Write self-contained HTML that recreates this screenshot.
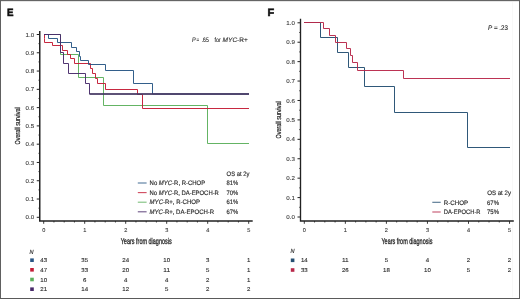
<!DOCTYPE html>
<html><head><meta charset="utf-8"><style>
html,body{margin:0;padding:0;background:#fff;width:520px;height:299px;overflow:hidden;}
svg{display:block;font-family:"Liberation Sans",sans-serif;will-change:transform;text-rendering:geometricPrecision;}
</style></head><body>
<svg width="520" height="299" viewBox="0 0 520 299" font-family="Liberation Sans, sans-serif">
<rect x="0" y="0" width="520" height="299" fill="#fff"/>
<rect x="512" y="2" width="1" height="295" fill="#f8f8f8"/>
<path d="M39.75,31 V221.0 H252.7" fill="none" stroke="#222222" stroke-width="1.5"/>
<path d="M36.75,217.30 H39.75" stroke="#222222" stroke-width="1"/>
<text x="34.15" y="219.35000000000002" font-size="5.7" text-anchor="end" fill="#3a3a3a" stroke="#3a3a3a" stroke-width="0.1" font-weight="normal" font-style="normal" textLength="8.6" lengthAdjust="spacingAndGlyphs" >0.0</text>
<path d="M38.45,208.16 H39.75" stroke="#222222" stroke-width="0.8"/>
<path d="M36.75,199.02 H39.75" stroke="#222222" stroke-width="1"/>
<text x="34.15" y="201.07000000000002" font-size="5.7" text-anchor="end" fill="#3a3a3a" stroke="#3a3a3a" stroke-width="0.1" font-weight="normal" font-style="normal" textLength="8.6" lengthAdjust="spacingAndGlyphs" >0.1</text>
<path d="M38.45,189.88 H39.75" stroke="#222222" stroke-width="0.8"/>
<path d="M36.75,180.74 H39.75" stroke="#222222" stroke-width="1"/>
<text x="34.15" y="182.79000000000002" font-size="5.7" text-anchor="end" fill="#3a3a3a" stroke="#3a3a3a" stroke-width="0.1" font-weight="normal" font-style="normal" textLength="8.6" lengthAdjust="spacingAndGlyphs" >0.2</text>
<path d="M38.45,171.60 H39.75" stroke="#222222" stroke-width="0.8"/>
<path d="M36.75,162.46 H39.75" stroke="#222222" stroke-width="1"/>
<text x="34.15" y="164.51000000000002" font-size="5.7" text-anchor="end" fill="#3a3a3a" stroke="#3a3a3a" stroke-width="0.1" font-weight="normal" font-style="normal" textLength="8.6" lengthAdjust="spacingAndGlyphs" >0.3</text>
<path d="M38.45,153.32 H39.75" stroke="#222222" stroke-width="0.8"/>
<path d="M36.75,144.18 H39.75" stroke="#222222" stroke-width="1"/>
<text x="34.15" y="146.23000000000002" font-size="5.7" text-anchor="end" fill="#3a3a3a" stroke="#3a3a3a" stroke-width="0.1" font-weight="normal" font-style="normal" textLength="8.6" lengthAdjust="spacingAndGlyphs" >0.4</text>
<path d="M38.45,135.04 H39.75" stroke="#222222" stroke-width="0.8"/>
<path d="M36.75,125.90 H39.75" stroke="#222222" stroke-width="1"/>
<text x="34.15" y="127.95" font-size="5.7" text-anchor="end" fill="#3a3a3a" stroke="#3a3a3a" stroke-width="0.1" font-weight="normal" font-style="normal" textLength="8.6" lengthAdjust="spacingAndGlyphs" >0.5</text>
<path d="M38.45,116.76 H39.75" stroke="#222222" stroke-width="0.8"/>
<path d="M36.75,107.62 H39.75" stroke="#222222" stroke-width="1"/>
<text x="34.15" y="109.66999999999999" font-size="5.7" text-anchor="end" fill="#3a3a3a" stroke="#3a3a3a" stroke-width="0.1" font-weight="normal" font-style="normal" textLength="8.6" lengthAdjust="spacingAndGlyphs" >0.6</text>
<path d="M38.45,98.48 H39.75" stroke="#222222" stroke-width="0.8"/>
<path d="M36.75,89.34 H39.75" stroke="#222222" stroke-width="1"/>
<text x="34.15" y="91.39" font-size="5.7" text-anchor="end" fill="#3a3a3a" stroke="#3a3a3a" stroke-width="0.1" font-weight="normal" font-style="normal" textLength="8.6" lengthAdjust="spacingAndGlyphs" >0.7</text>
<path d="M38.45,80.20 H39.75" stroke="#222222" stroke-width="0.8"/>
<path d="M36.75,71.06 H39.75" stroke="#222222" stroke-width="1"/>
<text x="34.15" y="73.11" font-size="5.7" text-anchor="end" fill="#3a3a3a" stroke="#3a3a3a" stroke-width="0.1" font-weight="normal" font-style="normal" textLength="8.6" lengthAdjust="spacingAndGlyphs" >0.8</text>
<path d="M38.45,61.92 H39.75" stroke="#222222" stroke-width="0.8"/>
<path d="M36.75,52.78 H39.75" stroke="#222222" stroke-width="1"/>
<text x="34.15" y="54.83" font-size="5.7" text-anchor="end" fill="#3a3a3a" stroke="#3a3a3a" stroke-width="0.1" font-weight="normal" font-style="normal" textLength="8.6" lengthAdjust="spacingAndGlyphs" >0.9</text>
<path d="M38.45,43.64 H39.75" stroke="#222222" stroke-width="0.8"/>
<path d="M36.75,34.50 H39.75" stroke="#222222" stroke-width="1"/>
<text x="34.15" y="36.55" font-size="5.7" text-anchor="end" fill="#3a3a3a" stroke="#3a3a3a" stroke-width="0.1" font-weight="normal" font-style="normal" textLength="8.6" lengthAdjust="spacingAndGlyphs" >1.0</text>
<path d="M43.70,221.0 V223.8" stroke="#222222" stroke-width="0.9"/>
<text x="43.70" y="232.0" font-size="5.6" text-anchor="middle" fill="#3a3a3a" stroke="#3a3a3a" stroke-width="0.1" font-weight="normal" font-style="normal" >0</text>
<path d="M53.95,221.0 V222.5" stroke="#222222" stroke-width="0.8"/>
<path d="M64.20,221.0 V222.5" stroke="#222222" stroke-width="0.8"/>
<path d="M74.45,221.0 V222.5" stroke="#222222" stroke-width="0.8"/>
<path d="M84.70,221.0 V223.8" stroke="#222222" stroke-width="0.9"/>
<text x="84.70" y="232.0" font-size="5.6" text-anchor="middle" fill="#3a3a3a" stroke="#3a3a3a" stroke-width="0.1" font-weight="normal" font-style="normal" >1</text>
<path d="M94.95,221.0 V222.5" stroke="#222222" stroke-width="0.8"/>
<path d="M105.20,221.0 V222.5" stroke="#222222" stroke-width="0.8"/>
<path d="M115.45,221.0 V222.5" stroke="#222222" stroke-width="0.8"/>
<path d="M125.70,221.0 V223.8" stroke="#222222" stroke-width="0.9"/>
<text x="125.70" y="232.0" font-size="5.6" text-anchor="middle" fill="#3a3a3a" stroke="#3a3a3a" stroke-width="0.1" font-weight="normal" font-style="normal" >2</text>
<path d="M135.95,221.0 V222.5" stroke="#222222" stroke-width="0.8"/>
<path d="M146.20,221.0 V222.5" stroke="#222222" stroke-width="0.8"/>
<path d="M156.45,221.0 V222.5" stroke="#222222" stroke-width="0.8"/>
<path d="M166.70,221.0 V223.8" stroke="#222222" stroke-width="0.9"/>
<text x="166.70" y="232.0" font-size="5.6" text-anchor="middle" fill="#3a3a3a" stroke="#3a3a3a" stroke-width="0.1" font-weight="normal" font-style="normal" >3</text>
<path d="M176.95,221.0 V222.5" stroke="#222222" stroke-width="0.8"/>
<path d="M187.20,221.0 V222.5" stroke="#222222" stroke-width="0.8"/>
<path d="M197.45,221.0 V222.5" stroke="#222222" stroke-width="0.8"/>
<path d="M207.70,221.0 V223.8" stroke="#222222" stroke-width="0.9"/>
<text x="207.70" y="232.0" font-size="5.6" text-anchor="middle" fill="#3a3a3a" stroke="#3a3a3a" stroke-width="0.1" font-weight="normal" font-style="normal" >4</text>
<path d="M217.95,221.0 V222.5" stroke="#222222" stroke-width="0.8"/>
<path d="M228.20,221.0 V222.5" stroke="#222222" stroke-width="0.8"/>
<path d="M238.45,221.0 V222.5" stroke="#222222" stroke-width="0.8"/>
<path d="M248.70,221.0 V223.8" stroke="#222222" stroke-width="0.9"/>
<text x="248.70" y="232.0" font-size="5.6" text-anchor="middle" fill="#3a3a3a" stroke="#3a3a3a" stroke-width="0.1" font-weight="normal" font-style="normal" >5</text>
<text x="146.20" y="243.6" font-size="8.4" text-anchor="middle" fill="#222" stroke="#222" stroke-width="0.28" font-weight="normal" font-style="normal" textLength="51" lengthAdjust="spacingAndGlyphs" >Years from diagnosis</text>
<text transform="translate(20.2,125.90) rotate(-90)" x="0" y="0" font-size="7.3" text-anchor="middle" fill="#222" stroke="#222" stroke-width="0.2" textLength="37.3" lengthAdjust="spacingAndGlyphs">Overall survival</text>
<path d="M300.5,18.7 V221.0 H513.8" fill="none" stroke="#222222" stroke-width="1.35"/>
<path d="M297.5,217.00 H300.5" stroke="#222222" stroke-width="1"/>
<text x="294.9" y="219.05" font-size="5.7" text-anchor="end" fill="#3a3a3a" stroke="#3a3a3a" stroke-width="0.1" font-weight="normal" font-style="normal" textLength="8.6" lengthAdjust="spacingAndGlyphs" >0.0</text>
<path d="M299.2,207.29 H300.5" stroke="#222222" stroke-width="0.8"/>
<path d="M297.5,197.58 H300.5" stroke="#222222" stroke-width="1"/>
<text x="294.9" y="199.63000000000002" font-size="5.7" text-anchor="end" fill="#3a3a3a" stroke="#3a3a3a" stroke-width="0.1" font-weight="normal" font-style="normal" textLength="8.6" lengthAdjust="spacingAndGlyphs" >0.1</text>
<path d="M299.2,187.87 H300.5" stroke="#222222" stroke-width="0.8"/>
<path d="M297.5,178.16 H300.5" stroke="#222222" stroke-width="1"/>
<text x="294.9" y="180.21" font-size="5.7" text-anchor="end" fill="#3a3a3a" stroke="#3a3a3a" stroke-width="0.1" font-weight="normal" font-style="normal" textLength="8.6" lengthAdjust="spacingAndGlyphs" >0.2</text>
<path d="M299.2,168.45 H300.5" stroke="#222222" stroke-width="0.8"/>
<path d="M297.5,158.74 H300.5" stroke="#222222" stroke-width="1"/>
<text x="294.9" y="160.79000000000002" font-size="5.7" text-anchor="end" fill="#3a3a3a" stroke="#3a3a3a" stroke-width="0.1" font-weight="normal" font-style="normal" textLength="8.6" lengthAdjust="spacingAndGlyphs" >0.3</text>
<path d="M299.2,149.03 H300.5" stroke="#222222" stroke-width="0.8"/>
<path d="M297.5,139.32 H300.5" stroke="#222222" stroke-width="1"/>
<text x="294.9" y="141.37" font-size="5.7" text-anchor="end" fill="#3a3a3a" stroke="#3a3a3a" stroke-width="0.1" font-weight="normal" font-style="normal" textLength="8.6" lengthAdjust="spacingAndGlyphs" >0.4</text>
<path d="M299.2,129.61 H300.5" stroke="#222222" stroke-width="0.8"/>
<path d="M297.5,119.90 H300.5" stroke="#222222" stroke-width="1"/>
<text x="294.9" y="121.95" font-size="5.7" text-anchor="end" fill="#3a3a3a" stroke="#3a3a3a" stroke-width="0.1" font-weight="normal" font-style="normal" textLength="8.6" lengthAdjust="spacingAndGlyphs" >0.5</text>
<path d="M299.2,110.19 H300.5" stroke="#222222" stroke-width="0.8"/>
<path d="M297.5,100.48 H300.5" stroke="#222222" stroke-width="1"/>
<text x="294.9" y="102.53000000000002" font-size="5.7" text-anchor="end" fill="#3a3a3a" stroke="#3a3a3a" stroke-width="0.1" font-weight="normal" font-style="normal" textLength="8.6" lengthAdjust="spacingAndGlyphs" >0.6</text>
<path d="M299.2,90.77 H300.5" stroke="#222222" stroke-width="0.8"/>
<path d="M297.5,81.06 H300.5" stroke="#222222" stroke-width="1"/>
<text x="294.9" y="83.11" font-size="5.7" text-anchor="end" fill="#3a3a3a" stroke="#3a3a3a" stroke-width="0.1" font-weight="normal" font-style="normal" textLength="8.6" lengthAdjust="spacingAndGlyphs" >0.7</text>
<path d="M299.2,71.35 H300.5" stroke="#222222" stroke-width="0.8"/>
<path d="M297.5,61.64 H300.5" stroke="#222222" stroke-width="1"/>
<text x="294.9" y="63.69000000000001" font-size="5.7" text-anchor="end" fill="#3a3a3a" stroke="#3a3a3a" stroke-width="0.1" font-weight="normal" font-style="normal" textLength="8.6" lengthAdjust="spacingAndGlyphs" >0.8</text>
<path d="M299.2,51.93 H300.5" stroke="#222222" stroke-width="0.8"/>
<path d="M297.5,42.22 H300.5" stroke="#222222" stroke-width="1"/>
<text x="294.9" y="44.269999999999996" font-size="5.7" text-anchor="end" fill="#3a3a3a" stroke="#3a3a3a" stroke-width="0.1" font-weight="normal" font-style="normal" textLength="8.6" lengthAdjust="spacingAndGlyphs" >0.9</text>
<path d="M299.2,32.51 H300.5" stroke="#222222" stroke-width="0.8"/>
<path d="M297.5,22.80 H300.5" stroke="#222222" stroke-width="1"/>
<text x="294.9" y="24.850000000000012" font-size="5.7" text-anchor="end" fill="#3a3a3a" stroke="#3a3a3a" stroke-width="0.1" font-weight="normal" font-style="normal" textLength="8.6" lengthAdjust="spacingAndGlyphs" >1.0</text>
<path d="M304.30,221.0 V223.8" stroke="#222222" stroke-width="0.9"/>
<text x="304.30" y="232.0" font-size="5.6" text-anchor="middle" fill="#3a3a3a" stroke="#3a3a3a" stroke-width="0.1" font-weight="normal" font-style="normal" >0</text>
<path d="M314.56,221.0 V222.5" stroke="#222222" stroke-width="0.8"/>
<path d="M324.82,221.0 V222.5" stroke="#222222" stroke-width="0.8"/>
<path d="M335.09,221.0 V222.5" stroke="#222222" stroke-width="0.8"/>
<path d="M345.35,221.0 V223.8" stroke="#222222" stroke-width="0.9"/>
<text x="345.35" y="232.0" font-size="5.6" text-anchor="middle" fill="#3a3a3a" stroke="#3a3a3a" stroke-width="0.1" font-weight="normal" font-style="normal" >1</text>
<path d="M355.61,221.0 V222.5" stroke="#222222" stroke-width="0.8"/>
<path d="M365.88,221.0 V222.5" stroke="#222222" stroke-width="0.8"/>
<path d="M376.14,221.0 V222.5" stroke="#222222" stroke-width="0.8"/>
<path d="M386.40,221.0 V223.8" stroke="#222222" stroke-width="0.9"/>
<text x="386.40" y="232.0" font-size="5.6" text-anchor="middle" fill="#3a3a3a" stroke="#3a3a3a" stroke-width="0.1" font-weight="normal" font-style="normal" >2</text>
<path d="M396.66,221.0 V222.5" stroke="#222222" stroke-width="0.8"/>
<path d="M406.93,221.0 V222.5" stroke="#222222" stroke-width="0.8"/>
<path d="M417.19,221.0 V222.5" stroke="#222222" stroke-width="0.8"/>
<path d="M427.45,221.0 V223.8" stroke="#222222" stroke-width="0.9"/>
<text x="427.45" y="232.0" font-size="5.6" text-anchor="middle" fill="#3a3a3a" stroke="#3a3a3a" stroke-width="0.1" font-weight="normal" font-style="normal" >3</text>
<path d="M437.71,221.0 V222.5" stroke="#222222" stroke-width="0.8"/>
<path d="M447.98,221.0 V222.5" stroke="#222222" stroke-width="0.8"/>
<path d="M458.24,221.0 V222.5" stroke="#222222" stroke-width="0.8"/>
<path d="M468.50,221.0 V223.8" stroke="#222222" stroke-width="0.9"/>
<text x="468.50" y="232.0" font-size="5.6" text-anchor="middle" fill="#3a3a3a" stroke="#3a3a3a" stroke-width="0.1" font-weight="normal" font-style="normal" >4</text>
<path d="M478.76,221.0 V222.5" stroke="#222222" stroke-width="0.8"/>
<path d="M489.02,221.0 V222.5" stroke="#222222" stroke-width="0.8"/>
<path d="M499.29,221.0 V222.5" stroke="#222222" stroke-width="0.8"/>
<path d="M509.55,221.0 V223.8" stroke="#222222" stroke-width="0.9"/>
<text x="509.55" y="232.0" font-size="5.6" text-anchor="middle" fill="#3a3a3a" stroke="#3a3a3a" stroke-width="0.1" font-weight="normal" font-style="normal" >5</text>
<text x="406.93" y="243.6" font-size="8.4" text-anchor="middle" fill="#222" stroke="#222" stroke-width="0.28" font-weight="normal" font-style="normal" textLength="51" lengthAdjust="spacingAndGlyphs" >Years from diagnosis</text>
<text transform="translate(280.9,119.90) rotate(-90)" x="0" y="0" font-size="7.3" text-anchor="middle" fill="#222" stroke="#222" stroke-width="0.2" textLength="37.3" lengthAdjust="spacingAndGlyphs">Overall survival</text>
<text x="6.9" y="15.8" font-size="10.6" text-anchor="start" fill="#111" stroke="#111" stroke-width="0.55" font-weight="bold" font-style="normal" textLength="6.5" lengthAdjust="spacingAndGlyphs" >E</text>
<text x="267.6" y="15.8" font-size="10.4" text-anchor="start" fill="#111" stroke="#111" stroke-width="0.55" font-weight="bold" font-style="normal" textLength="6.7" lengthAdjust="spacingAndGlyphs" >F</text>
<path d="M 44.5,34.5 H 60.5 V 54.5 H 78.5 V 77.5 H 103.5 V 105.5 H 207.5 V 143.5 H 248.5" fill="none" stroke="#5cb05c" stroke-width="0.95" stroke-linecap="square"/>
<path d="M 44.5,34.5 V 38.5 H 44.5 V 42.5 H 52.5 V 45.5 H 62.5 V 50.5 H 67.5 V 54.5 H 70.5 V 58.5 H 74.5 V 63.5 H 90.5 V 68.5 H 92.5 V 73.5 H 95.5 V 78.5 H 97.5 V 83.5 H 105.5 V 89.5 H 137.5 V 94.5 H 142.5 V 108.5 H 248.5" fill="none" stroke="#c41c36" stroke-width="0.95" stroke-linecap="square"/>
<path d="M 44.5,34.5 H 48.5 V 38.5 H 57.5 V 42.5 H 71.5 V 47.5 H 76.5 V 51.5 H 79.5 V 56.5 H 80.5 V 60.5 H 88.5 V 64.5 H 105.5 V 70.5 H 133.5 V 83.5 H 152.5 V 94.0 H 248.5" fill="none" stroke="#285685" stroke-width="0.95" stroke-linecap="square"/>
<path d="M 44.5,34.5 H 60.5 V 52.5 H 63.5 V 63.5 H 68.5 V 73.5 H 85.5 V 83.5 H 89.5 V 94.0 H 248.5" fill="none" stroke="#482a6a" stroke-width="0.95" stroke-linecap="square"/>
<path d="M89.5,94 H249" fill="none" stroke="#463a62" stroke-width="1.3"/>
<path d="M 304.5,22.5 H 320.5 V 37.5 H 337.5 V 52.5 H 348.5 V 67.5 H 364.5 V 86.5 H 394.5 V 112.5 H 467.5 V 147.5 H 509.5" fill="none" stroke="#244f72" stroke-width="0.95" stroke-linecap="square"/>
<path d="M 304.5,22.5 H 323.5 V 28.5 H 329.5 V 35.5 H 335.5 V 42.5 H 346.5 V 48.5 H 350.5 V 55.5 H 352.5 V 62.5 H 357.5 V 70.5 H 403.5 V 78.5 H 509.5" fill="none" stroke="#b8284a" stroke-width="0.95" stroke-linecap="square"/>
<text x="192.1" y="41.7" font-size="6.5" text-anchor="start" fill="#2a2a2a" stroke="#2a2a2a" stroke-width="0.12" font-weight="normal" font-style="italic" textLength="3.6" lengthAdjust="spacingAndGlyphs" >P</text>
<text x="196.6" y="41.7" font-size="6.5" text-anchor="start" fill="#2a2a2a" stroke="#2a2a2a" stroke-width="0.12" font-weight="normal" font-style="normal" textLength="2.7" lengthAdjust="spacingAndGlyphs" >=</text>
<text x="201.7" y="41.7" font-size="6.5" text-anchor="start" fill="#2a2a2a" stroke="#2a2a2a" stroke-width="0.12" font-weight="normal" font-style="normal" textLength="7.0" lengthAdjust="spacingAndGlyphs" >.65</text>
<text x="214.6" y="41.7" font-size="6.5" text-anchor="start" fill="#2a2a2a" stroke="#2a2a2a" stroke-width="0.12" font-weight="normal" font-style="normal" textLength="6.2" lengthAdjust="spacingAndGlyphs" >for</text>
<text x="222.6" y="41.7" font-size="6.5" text-anchor="start" fill="#2a2a2a" stroke="#2a2a2a" stroke-width="0.12" font-weight="normal" font-style="normal" textLength="25.2" lengthAdjust="spacingAndGlyphs" ><tspan font-style="italic">MYC</tspan>-R+</text>
<text x="488" y="30.0" font-size="6.7" fill="#2a2a2a" stroke="#2a2a2a" stroke-width="0.12" textLength="20" lengthAdjust="spacingAndGlyphs"><tspan font-style="italic">P</tspan> = .23</text>
<text x="226.6" y="176.0" font-size="6.4" text-anchor="start" fill="#2a2a2a" stroke="#2a2a2a" stroke-width="0.15" font-weight="normal" font-style="normal" textLength="22.8" lengthAdjust="spacingAndGlyphs" >OS at 2y</text>
<path d="M137.8,183.0 H146.6" stroke="#285685" stroke-width="1.1" stroke-opacity="0.8"/>
<text x="149.6" y="185.0" font-size="6.4" text-anchor="start" fill="#2a2a2a" stroke="#2a2a2a" stroke-width="0.15" font-weight="normal" font-style="normal" textLength="55.6" lengthAdjust="spacingAndGlyphs" >No <tspan font-style="italic">MYC</tspan>-R, R-CHOP</text>
<text x="226.4" y="185.0" font-size="6.4" text-anchor="start" fill="#2a2a2a" stroke="#2a2a2a" stroke-width="0.15" font-weight="normal" font-style="normal" textLength="11.7" lengthAdjust="spacingAndGlyphs" >81%</text>
<path d="M137.8,192.6 H146.6" stroke="#c41c36" stroke-width="1.1" stroke-opacity="0.8"/>
<text x="149.6" y="194.7" font-size="6.4" text-anchor="start" fill="#2a2a2a" stroke="#2a2a2a" stroke-width="0.15" font-weight="normal" font-style="normal" textLength="69.3" lengthAdjust="spacingAndGlyphs" >No <tspan font-style="italic">MYC</tspan>-R, DA-EPOCH-R</text>
<text x="226.4" y="194.7" font-size="6.4" text-anchor="start" fill="#2a2a2a" stroke="#2a2a2a" stroke-width="0.15" font-weight="normal" font-style="normal" textLength="11.7" lengthAdjust="spacingAndGlyphs" >70%</text>
<path d="M137.8,202.2 H146.6" stroke="#5cb05c" stroke-width="1.1" stroke-opacity="0.8"/>
<text x="149.6" y="204.3" font-size="6.4" text-anchor="start" fill="#2a2a2a" stroke="#2a2a2a" stroke-width="0.15" font-weight="normal" font-style="normal" textLength="50.4" lengthAdjust="spacingAndGlyphs" ><tspan font-style="italic">MYC</tspan>-R+, R-CHOP</text>
<text x="226.4" y="204.3" font-size="6.4" text-anchor="start" fill="#2a2a2a" stroke="#2a2a2a" stroke-width="0.15" font-weight="normal" font-style="normal" textLength="11.7" lengthAdjust="spacingAndGlyphs" >61%</text>
<path d="M137.8,211.8 H146.6" stroke="#482a6a" stroke-width="1.1" stroke-opacity="0.8"/>
<text x="149.6" y="213.5" font-size="6.4" text-anchor="start" fill="#2a2a2a" stroke="#2a2a2a" stroke-width="0.15" font-weight="normal" font-style="normal" textLength="64.6" lengthAdjust="spacingAndGlyphs" ><tspan font-style="italic">MYC</tspan>-R+, DA-EPOCH-R</text>
<text x="226.4" y="213.5" font-size="6.4" text-anchor="start" fill="#2a2a2a" stroke="#2a2a2a" stroke-width="0.15" font-weight="normal" font-style="normal" textLength="11.7" lengthAdjust="spacingAndGlyphs" >67%</text>
<text x="487.2" y="195.1" font-size="6.4" text-anchor="start" fill="#2a2a2a" stroke="#2a2a2a" stroke-width="0.15" font-weight="normal" font-style="normal" textLength="23.8" lengthAdjust="spacingAndGlyphs" >OS at 2y</text>
<path d="M432.3,202.3 H440.7" stroke="#244f72" stroke-width="1.1" stroke-opacity="0.8"/>
<text x="443.8" y="204.5" font-size="6.4" text-anchor="start" fill="#2a2a2a" stroke="#2a2a2a" stroke-width="0.15" font-weight="normal" font-style="normal" textLength="24.2" lengthAdjust="spacingAndGlyphs" >R-CHOP</text>
<text x="487" y="204.5" font-size="6.4" text-anchor="start" fill="#2a2a2a" stroke="#2a2a2a" stroke-width="0.15" font-weight="normal" font-style="normal" textLength="12" lengthAdjust="spacingAndGlyphs" >67%</text>
<path d="M432.3,212.0 H440.7" stroke="#b8284a" stroke-width="1.1" stroke-opacity="0.8"/>
<text x="443.8" y="213.9" font-size="6.4" text-anchor="start" fill="#2a2a2a" stroke="#2a2a2a" stroke-width="0.15" font-weight="normal" font-style="normal" textLength="36.7" lengthAdjust="spacingAndGlyphs" >DA-EPOCH-R</text>
<text x="487" y="213.9" font-size="6.4" text-anchor="start" fill="#2a2a2a" stroke="#2a2a2a" stroke-width="0.15" font-weight="normal" font-style="normal" textLength="12" lengthAdjust="spacingAndGlyphs" >75%</text>
<text x="29.6" y="253.6" font-size="6.0" text-anchor="start" fill="#2a2a2a" stroke="#2a2a2a" stroke-width="0.15" font-weight="normal" font-style="italic" textLength="4.0" lengthAdjust="spacingAndGlyphs" >N</text>
<rect x="30.2" y="258.4" width="3.6" height="3.6" fill="#285685"/>
<text x="43.70" y="262.2" font-size="5.6" text-anchor="middle" fill="#2a2a2a" stroke="#2a2a2a" stroke-width="0.1" font-weight="normal" font-style="normal" textLength="6.8" lengthAdjust="spacingAndGlyphs" >43</text>
<text x="84.70" y="262.2" font-size="5.6" text-anchor="middle" fill="#2a2a2a" stroke="#2a2a2a" stroke-width="0.1" font-weight="normal" font-style="normal" textLength="6.8" lengthAdjust="spacingAndGlyphs" >35</text>
<text x="125.70" y="262.2" font-size="5.6" text-anchor="middle" fill="#2a2a2a" stroke="#2a2a2a" stroke-width="0.1" font-weight="normal" font-style="normal" textLength="6.8" lengthAdjust="spacingAndGlyphs" >24</text>
<text x="166.70" y="262.2" font-size="5.6" text-anchor="middle" fill="#2a2a2a" stroke="#2a2a2a" stroke-width="0.1" font-weight="normal" font-style="normal" textLength="6.8" lengthAdjust="spacingAndGlyphs" >10</text>
<text x="207.70" y="262.2" font-size="5.6" text-anchor="middle" fill="#2a2a2a" stroke="#2a2a2a" stroke-width="0.1" font-weight="normal" font-style="normal" textLength="3.4" lengthAdjust="spacingAndGlyphs" >3</text>
<text x="248.70" y="262.2" font-size="5.6" text-anchor="middle" fill="#2a2a2a" stroke="#2a2a2a" stroke-width="0.1" font-weight="normal" font-style="normal" textLength="3.4" lengthAdjust="spacingAndGlyphs" >1</text>
<rect x="30.2" y="268.0" width="3.6" height="3.6" fill="#c41c36"/>
<text x="43.70" y="271.8" font-size="5.6" text-anchor="middle" fill="#2a2a2a" stroke="#2a2a2a" stroke-width="0.1" font-weight="normal" font-style="normal" textLength="6.8" lengthAdjust="spacingAndGlyphs" >47</text>
<text x="84.70" y="271.8" font-size="5.6" text-anchor="middle" fill="#2a2a2a" stroke="#2a2a2a" stroke-width="0.1" font-weight="normal" font-style="normal" textLength="6.8" lengthAdjust="spacingAndGlyphs" >33</text>
<text x="125.70" y="271.8" font-size="5.6" text-anchor="middle" fill="#2a2a2a" stroke="#2a2a2a" stroke-width="0.1" font-weight="normal" font-style="normal" textLength="6.8" lengthAdjust="spacingAndGlyphs" >20</text>
<text x="166.70" y="271.8" font-size="5.6" text-anchor="middle" fill="#2a2a2a" stroke="#2a2a2a" stroke-width="0.1" font-weight="normal" font-style="normal" textLength="6.8" lengthAdjust="spacingAndGlyphs" >11</text>
<text x="207.70" y="271.8" font-size="5.6" text-anchor="middle" fill="#2a2a2a" stroke="#2a2a2a" stroke-width="0.1" font-weight="normal" font-style="normal" textLength="3.4" lengthAdjust="spacingAndGlyphs" >5</text>
<text x="248.70" y="271.8" font-size="5.6" text-anchor="middle" fill="#2a2a2a" stroke="#2a2a2a" stroke-width="0.1" font-weight="normal" font-style="normal" textLength="3.4" lengthAdjust="spacingAndGlyphs" >1</text>
<rect x="30.2" y="277.7" width="3.6" height="3.6" fill="#5cb05c"/>
<text x="43.70" y="281.5" font-size="5.6" text-anchor="middle" fill="#2a2a2a" stroke="#2a2a2a" stroke-width="0.1" font-weight="normal" font-style="normal" textLength="6.8" lengthAdjust="spacingAndGlyphs" >10</text>
<text x="84.70" y="281.5" font-size="5.6" text-anchor="middle" fill="#2a2a2a" stroke="#2a2a2a" stroke-width="0.1" font-weight="normal" font-style="normal" textLength="3.4" lengthAdjust="spacingAndGlyphs" >6</text>
<text x="125.70" y="281.5" font-size="5.6" text-anchor="middle" fill="#2a2a2a" stroke="#2a2a2a" stroke-width="0.1" font-weight="normal" font-style="normal" textLength="3.4" lengthAdjust="spacingAndGlyphs" >4</text>
<text x="166.70" y="281.5" font-size="5.6" text-anchor="middle" fill="#2a2a2a" stroke="#2a2a2a" stroke-width="0.1" font-weight="normal" font-style="normal" textLength="3.4" lengthAdjust="spacingAndGlyphs" >4</text>
<text x="207.70" y="281.5" font-size="5.6" text-anchor="middle" fill="#2a2a2a" stroke="#2a2a2a" stroke-width="0.1" font-weight="normal" font-style="normal" textLength="3.4" lengthAdjust="spacingAndGlyphs" >2</text>
<text x="248.70" y="281.5" font-size="5.6" text-anchor="middle" fill="#2a2a2a" stroke="#2a2a2a" stroke-width="0.1" font-weight="normal" font-style="normal" textLength="3.4" lengthAdjust="spacingAndGlyphs" >1</text>
<rect x="30.2" y="287.4" width="3.6" height="3.6" fill="#482a6a"/>
<text x="43.70" y="291.2" font-size="5.6" text-anchor="middle" fill="#2a2a2a" stroke="#2a2a2a" stroke-width="0.1" font-weight="normal" font-style="normal" textLength="6.8" lengthAdjust="spacingAndGlyphs" >21</text>
<text x="84.70" y="291.2" font-size="5.6" text-anchor="middle" fill="#2a2a2a" stroke="#2a2a2a" stroke-width="0.1" font-weight="normal" font-style="normal" textLength="6.8" lengthAdjust="spacingAndGlyphs" >14</text>
<text x="125.70" y="291.2" font-size="5.6" text-anchor="middle" fill="#2a2a2a" stroke="#2a2a2a" stroke-width="0.1" font-weight="normal" font-style="normal" textLength="6.8" lengthAdjust="spacingAndGlyphs" >12</text>
<text x="166.70" y="291.2" font-size="5.6" text-anchor="middle" fill="#2a2a2a" stroke="#2a2a2a" stroke-width="0.1" font-weight="normal" font-style="normal" textLength="3.4" lengthAdjust="spacingAndGlyphs" >5</text>
<text x="207.70" y="291.2" font-size="5.6" text-anchor="middle" fill="#2a2a2a" stroke="#2a2a2a" stroke-width="0.1" font-weight="normal" font-style="normal" textLength="3.4" lengthAdjust="spacingAndGlyphs" >2</text>
<text x="248.70" y="291.2" font-size="5.6" text-anchor="middle" fill="#2a2a2a" stroke="#2a2a2a" stroke-width="0.1" font-weight="normal" font-style="normal" textLength="3.4" lengthAdjust="spacingAndGlyphs" >2</text>
<text x="290.6" y="253.0" font-size="6.0" text-anchor="start" fill="#2a2a2a" stroke="#2a2a2a" stroke-width="0.15" font-weight="normal" font-style="italic" textLength="4.0" lengthAdjust="spacingAndGlyphs" >N</text>
<rect x="290.8" y="258.5" width="3.6" height="3.6" fill="#244f72"/>
<text x="304.30" y="262.3" font-size="5.6" text-anchor="middle" fill="#2a2a2a" stroke="#2a2a2a" stroke-width="0.1" font-weight="normal" font-style="normal" textLength="6.8" lengthAdjust="spacingAndGlyphs" >14</text>
<text x="345.35" y="262.3" font-size="5.6" text-anchor="middle" fill="#2a2a2a" stroke="#2a2a2a" stroke-width="0.1" font-weight="normal" font-style="normal" textLength="6.8" lengthAdjust="spacingAndGlyphs" >11</text>
<text x="386.40" y="262.3" font-size="5.6" text-anchor="middle" fill="#2a2a2a" stroke="#2a2a2a" stroke-width="0.1" font-weight="normal" font-style="normal" textLength="3.4" lengthAdjust="spacingAndGlyphs" >5</text>
<text x="427.45" y="262.3" font-size="5.6" text-anchor="middle" fill="#2a2a2a" stroke="#2a2a2a" stroke-width="0.1" font-weight="normal" font-style="normal" textLength="3.4" lengthAdjust="spacingAndGlyphs" >4</text>
<text x="468.50" y="262.3" font-size="5.6" text-anchor="middle" fill="#2a2a2a" stroke="#2a2a2a" stroke-width="0.1" font-weight="normal" font-style="normal" textLength="3.4" lengthAdjust="spacingAndGlyphs" >2</text>
<text x="509.55" y="262.3" font-size="5.6" text-anchor="middle" fill="#2a2a2a" stroke="#2a2a2a" stroke-width="0.1" font-weight="normal" font-style="normal" textLength="3.4" lengthAdjust="spacingAndGlyphs" >2</text>
<rect x="290.8" y="268.2" width="3.6" height="3.6" fill="#b8284a"/>
<text x="304.30" y="272.0" font-size="5.6" text-anchor="middle" fill="#2a2a2a" stroke="#2a2a2a" stroke-width="0.1" font-weight="normal" font-style="normal" textLength="6.8" lengthAdjust="spacingAndGlyphs" >33</text>
<text x="345.35" y="272.0" font-size="5.6" text-anchor="middle" fill="#2a2a2a" stroke="#2a2a2a" stroke-width="0.1" font-weight="normal" font-style="normal" textLength="6.8" lengthAdjust="spacingAndGlyphs" >26</text>
<text x="386.40" y="272.0" font-size="5.6" text-anchor="middle" fill="#2a2a2a" stroke="#2a2a2a" stroke-width="0.1" font-weight="normal" font-style="normal" textLength="6.8" lengthAdjust="spacingAndGlyphs" >18</text>
<text x="427.45" y="272.0" font-size="5.6" text-anchor="middle" fill="#2a2a2a" stroke="#2a2a2a" stroke-width="0.1" font-weight="normal" font-style="normal" textLength="6.8" lengthAdjust="spacingAndGlyphs" >10</text>
<text x="468.50" y="272.0" font-size="5.6" text-anchor="middle" fill="#2a2a2a" stroke="#2a2a2a" stroke-width="0.1" font-weight="normal" font-style="normal" textLength="3.4" lengthAdjust="spacingAndGlyphs" >5</text>
<text x="509.55" y="272.0" font-size="5.6" text-anchor="middle" fill="#2a2a2a" stroke="#2a2a2a" stroke-width="0.1" font-weight="normal" font-style="normal" textLength="3.4" lengthAdjust="spacingAndGlyphs" >2</text>
<rect x="0" y="0" width="520" height="1" fill="#656565"/>
<rect x="0" y="0" width="1" height="299" fill="#606060"/>
<rect x="519" y="0" width="1" height="299" fill="#606060"/>
<rect x="0" y="298" width="520" height="1" fill="#5a5a5a"/>
<rect x="1" y="1" width="518" height="0.25" fill="#999"/>
</svg>
</body></html>
